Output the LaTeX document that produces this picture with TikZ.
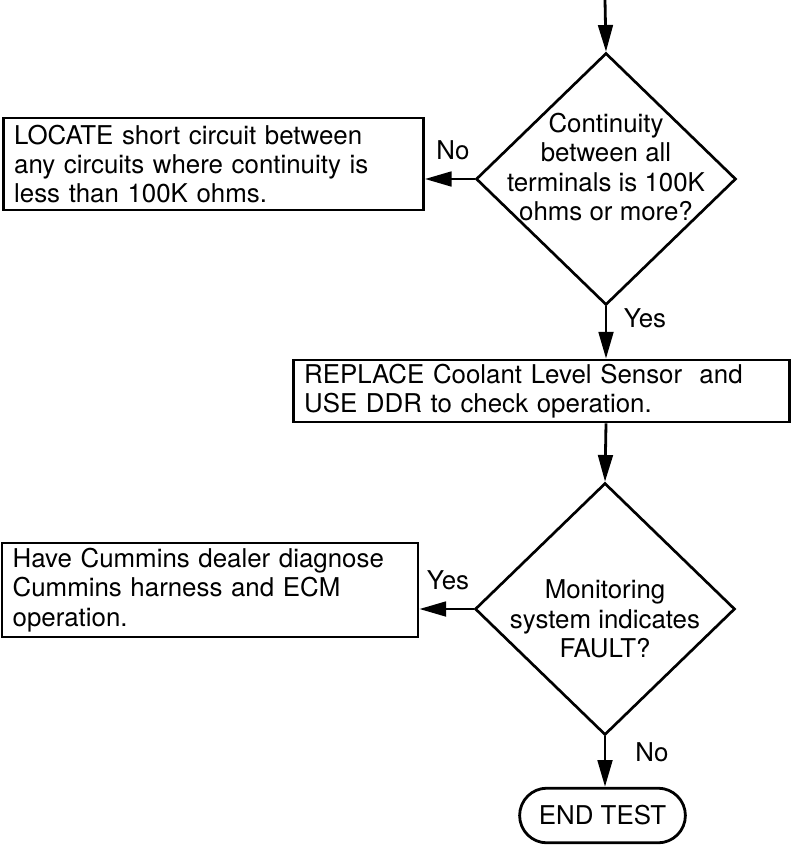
\documentclass[tikz,border=0pt]{standalone}
\usepackage{fontspec}
\setmainfont{TeX Gyre Heros}
\usetikzlibrary{arrows.meta,shapes.geometric,shapes.misc}

\begin{document}
\begin{tikzpicture}[x=0.75pt,y=-0.75pt,
    every node/.style={font=\fontsize{19.4}{22}\selectfont},
    flow/.style={line width=2.1pt,-{Triangle[length=20pt,width=11pt]}},
    actbox/.style={draw,line width=2.1pt,inner xsep=8pt,inner ysep=0pt,align=left},
    decision/.style={draw,diamond,line width=2pt,inner sep=0pt,
        minimum width=195pt,minimum height=189pt},
    endbox/.style={draw,rounded rectangle,line width=2.1pt,
        minimum width=131pt,minimum height=41pt}]
    \useasboundingbox (0,0) rectangle (800,853);
    \coordinate (In) at (605,0);

    \node[decision] (D1) at (606,179) {};
    \node[align=center] (Q1) at (606,167) {Continuity\\between all\\terminals is 100K\\ohms or more?};
    \node[actbox,text width=299pt,minimum height=69pt] (Locate) at (213.5,164)
        {LOCATE short circuit between\\any circuits where continuity is\\less than 100K ohms.};
    \node[actbox,text width=356pt,minimum height=46.5pt] (Replace) at (541.5,391)
        {REPLACE Coolant Level Sensor\ \ and\\USE DDR to check operation.};
    \node[decision] (D2) at (605,609) {};
    \node[align=center] (Q2) at (605,619) {Monitoring\\system indicates\\FAULT?};
    \node[actbox,text width=296pt,minimum height=70.5pt] (Dealer) at (210,590)
        {Have Cummins dealer diagnose\\Cummins harness and ECM\\operation.};
    \node[endbox] (End) at (602.5,815.5) {END TEST};

    \draw[flow] (In) -- (D1.north);
    \draw[flow] (D1.west) -- (D1.west -| Locate.east);
    \draw[flow] (D1.south) -- (D1.south |- Replace.north);
    \draw[flow] (D1.south |- Replace.south) -- (D2.north);
    \draw[flow] (D2.west) -- (D2.west -| Dealer.east);
    \draw[flow] (D2.south) -- (D2.south |- End.north);

    \node (No1) at (453,150) {No};
    \node (Yes1) at (645,318) {Yes};
    \node (Yes2) at (448,580) {Yes};
    \node (No2) at (652,752) {No};
\end{tikzpicture}
\end{document}
